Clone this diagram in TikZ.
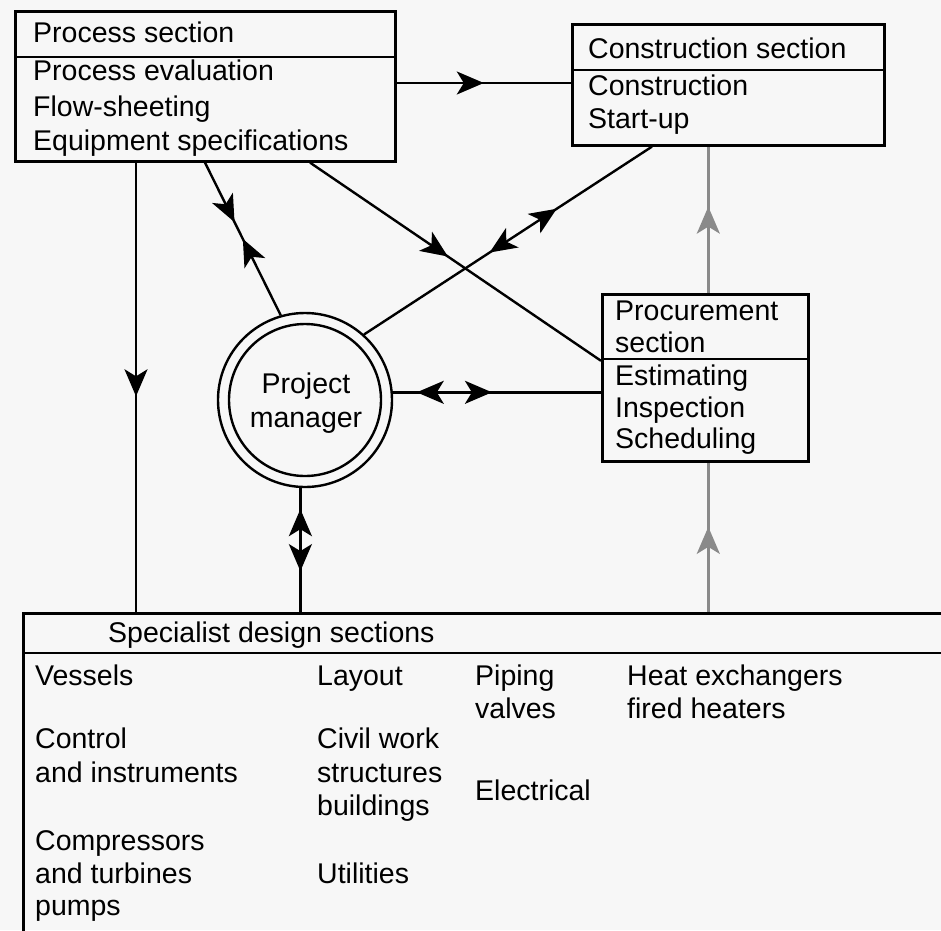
\documentclass[tikz,border=0pt]{standalone}
\usepackage{fontspec}
\setmainfont{Liberation Sans}
\usetikzlibrary{arrows.meta,decorations.markings}
\definecolor{bgc}{HTML}{F7F7F7}
\definecolor{glc}{HTML}{8A8A8A}
\tikzset{
  >={Stealth[length=27pt,width=23pt,inset=7pt]},
  box/.style={draw, line width=2.6pt, rectangle, inner sep=0pt, anchor=north west},
  divline/.style={line width=2.6pt},
  txt/.style={anchor=base west, inner sep=0pt, font=\fontsize{28.5}{34}\selectfont},
  ctxt/.style={anchor=base, inner sep=0pt, font=\fontsize{28.5}{34}\selectfont},
  conn/.style={line width=2.4pt},
  gconn/.style={line width=2.8pt, draw=glc},
  fwd/.style={postaction={decorate}, decoration={markings, mark=at position #1 with {\arrow{>}}}},
  bwd/.style={postaction={decorate}, decoration={markings, mark=at position #1 with {\arrowreversed{>}}}},
  fb/.style 2 args={postaction={decorate}, decoration={markings,
      mark=at position #1 with {\arrow{>}}, mark=at position #2 with {\arrowreversed{>}}}},
}
\begin{document}
\begin{tikzpicture}[x=1pt,y=-1pt]
\useasboundingbox (0,0) rectangle (941,930);
\fill[bgc] (0,0) rectangle (941,930);
\clip (0,0) rectangle (941,930);

% boxes
\node[box, minimum width=380pt, minimum height=150pt] (proc) at (14,10) {};
\draw[divline] (proc.west |- 0,57) -- (proc.east |- 0,57);
\node[box, minimum width=312pt, minimum height=121pt] (con) at (571,23) {};
\draw[divline] (con.west |- 0,70) -- (con.east |- 0,70);
\node[box, minimum width=206pt, minimum height=167pt] (cur) at (601,293) {};
\draw[divline] (cur.west |- 0,359) -- (cur.east |- 0,359);
\node[box, minimum width=1000pt, minimum height=400pt] (spec) at (22,612) {};
\draw[divline] (spec.west |- 0,653) -- (spec.east |- 0,653);

% project manager
\node[draw, circle, line width=2.4pt, minimum size=174pt, inner sep=0pt] (pm) at (305,400) {};
\draw[line width=2.4pt] (pm.center) circle[radius=76pt];

% texts
\node[txt] (p0) at (33,42) {Process section};
\node[txt] (p1) at (33,80) {Process evaluation};
\node[txt] (p2) at (33,116) {Flow-sheeting};
\node[txt] (p3) at (33,150) {Equipment specifications};

\node[txt] (c0) at (588,58) {Construction section};
\node[txt] (c1) at (588,95) {Construction};
\node[txt] (c2) at (588,128) {Start-up};

\node[txt] (r0) at (615,320) {Procurement};
\node[txt] (r1) at (615,352) {section};
\node[txt] (r2) at (615,385) {Estimating};
\node[txt] (r3) at (615,417) {Inspection};
\node[txt] (r4) at (615,448) {Scheduling};

\node[ctxt] (m0) at (306,393) {Project};
\node[ctxt] (m1) at (306,427) {manager};

\node[txt] (s0) at (108,642) {Specialist design sections};
\node[txt] (s1) at (35,685) {Vessels};
\node[txt] (s2) at (35,748) {Control};
\node[txt] (s3) at (35,782) {and instruments};
\node[txt] (s4) at (35,850) {Compressors};
\node[txt] (s5) at (35,883) {and turbines};
\node[txt] (s6) at (35,915) {pumps};
\node[txt] (s7) at (317,685) {Layout};
\node[txt] (s8) at (317,748) {Civil work};
\node[txt] (s9) at (317,782) {structures};
\node[txt] (s10) at (317,815) {buildings};
\node[txt] (s11) at (317,883) {Utilities};
\node[txt] (s12) at (475,685) {Piping};
\node[txt] (s13) at (475,718) {valves};
\node[txt] (s14) at (475,800) {Electrical};
\node[txt] (s15) at (627,685) {Heat exchangers};
\node[txt] (s16) at (627,718) {fired heaters};

% connectors
\draw[conn, fwd=0.5] (proc.east |- 0,83) -- (con.west |- 0,83);
\draw[conn, fwd=0.52] ([xshift=122pt]proc.south west) -- ([xshift=122pt]proc.south west |- spec.north);
\draw[conn, fb={0.39}{0.50}] ([xshift=191pt]proc.south west) -- (pm.106);
\draw[conn, fwd=0.474] ([xshift=296pt]proc.south west) -- ([yshift=17pt]cur.west);
\draw[conn, fb={0.564}{0.331}] ([xshift=81pt]con.south west) -- (pm.48);
\draw[conn, fb={0.476}{0.115}] (pm.5) -- (pm.5 -| cur.west);
\draw[conn, fb={0.67}{0.17}] (pm.267) -- (pm.267 |- spec.north);
\draw[gconn, fwd=0.57] ([xshift=3pt]cur.south |- spec.north) -- ([xshift=3pt]cur.south);
\draw[gconn, fwd=0.59] ([xshift=3pt]cur.north) -- ([xshift=3pt]cur.north |- con.south);
\end{tikzpicture}
\end{document}
